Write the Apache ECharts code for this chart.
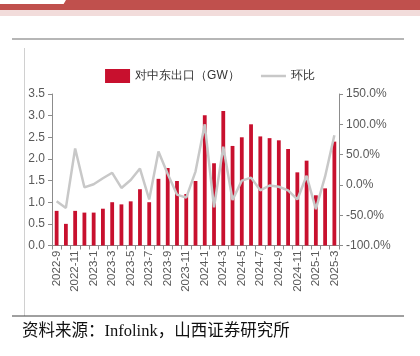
<!DOCTYPE html>
<html><head><meta charset="utf-8">
<script src="https://cdn.jsdelivr.net/npm/echarts@6/dist/echarts.min.js"></script>
<style>html,body{margin:0;padding:0;background:#fff}#c{width:420px;height:356px}</style>
</head><body><div id="c"></div>
<script>
const categories = ['2022-9','2022-10','2022-11','2022-12','2023-1','2023-2','2023-3','2023-4','2023-5','2023-6','2023-7','2023-8','2023-9','2023-10','2023-11','2023-12','2024-1','2024-2','2024-3','2024-4','2024-5','2024-6','2024-7','2024-8','2024-9','2024-10','2024-11','2024-12','2025-1','2025-2','2025-3'];
const exportsGW = [0.80,0.50,0.80,0.76,0.76,0.85,1.00,0.95,1.02,1.30,1.00,1.54,1.79,1.49,1.19,1.49,3.01,1.90,3.11,2.30,2.50,2.80,2.52,2.48,2.43,2.23,1.69,1.96,1.16,1.32,2.40];
const momPct = [-27,-38,60,-4,1,11,20,-5,8,27,-24,55,18,-16,-21,22,100,-37,63,-25,7,12,-9,-1,-3,-9,-24,15,-40,14,82];
const seriesNames = ['对中东出口（GW）','环比'];
const sourceText = '资料来源：Infolink，山西证券研究所';

const chart = echarts.init(document.getElementById('c'), null, {renderer:'canvas'});
const axisColor = '#8c8c8c';
const labelColor = '#595959';
const font = 'Arial, "Liberation Sans", sans-serif';
chart.setOption({
  animation:false,
  graphic:[
    {type:'rect',shape:{x:0,y:4,width:64,height:6},style:{fill:'#c0504d'},silent:true},
    {type:'polygon',shape:{points:[[60,10],[66,0],[420,0],[420,10]]},style:{fill:'#c0504d'},silent:true},
    {type:'rect',shape:{x:0,y:10,width:420,height:6},style:{fill:'#f2dcdb'},silent:true},
    {type:'line',shape:{x1:12,y1:39,x2:404,y2:39},style:{stroke:'#6e6e6e',lineWidth:1.2},silent:true},
    {type:'line',shape:{x1:24.5,y1:48,x2:24.5,y2:316},style:{stroke:'#d0d0d0',lineWidth:1},silent:true},
    {type:'line',shape:{x1:12,y1:316,x2:404,y2:316},style:{stroke:'#404040',lineWidth:1},silent:true},
    {type:'text',left:22,top:323,style:{text:sourceText,fill:'#111',font:'16.5px "Liberation Serif", "Noto Sans CJK SC", serif'},silent:true}
  ],
  legend:{
    top:64,left:'center',itemGap:20,
    textStyle:{color:'#333',fontSize:12,fontFamily:font},
    data:[
      {name:seriesNames[0],icon:'rect',itemStyle:{color:'#c8102e'}},
      {name:seriesNames[1],itemStyle:{opacity:0},lineStyle:{color:'#c8c8c8',width:2.5,opacity:1}}
    ]
  },
  grid:{left:52,right:81,top:94,bottom:110.5,containLabel:false},
  xAxis:{
    type:'category',data:categories,boundaryGap:true,
    axisLine:{lineStyle:{color:axisColor,width:1}},
    axisTick:{show:true,interval:0,length:4,lineStyle:{color:axisColor}},
    axisLabel:{interval:1,rotate:90,color:labelColor,fontSize:11.5,fontFamily:font,margin:5}
  },
  yAxis:[
    {type:'value',min:0,max:3.5,interval:0.5,
     axisLine:{show:true,lineStyle:{color:axisColor}},
     axisTick:{show:true,length:4,lineStyle:{color:axisColor}},
     splitLine:{show:false},
     axisLabel:{color:labelColor,fontSize:12,fontFamily:font,margin:7,formatter:v=>v.toFixed(1)}},
    {type:'value',min:-100,max:150,interval:50,position:'right',
     axisLine:{show:true,lineStyle:{color:axisColor}},
     axisTick:{show:true,length:4,lineStyle:{color:axisColor}},
     splitLine:{show:false},
     axisLabel:{color:labelColor,fontSize:12,fontFamily:font,margin:7,formatter:v=>v.toFixed(1)+'%'}}
  ],
  series:[
    {name:seriesNames[0],type:'bar',data:exportsGW,barWidth:3.8,itemStyle:{color:'#c8102e'},yAxisIndex:0},
    {name:seriesNames[1],type:'line',data:momPct,yAxisIndex:1,symbol:'none',lineStyle:{color:'#c8c8c8',width:2.5},itemStyle:{color:'#c8c8c8'},z:3}
  ]
});
</script></body></html>
